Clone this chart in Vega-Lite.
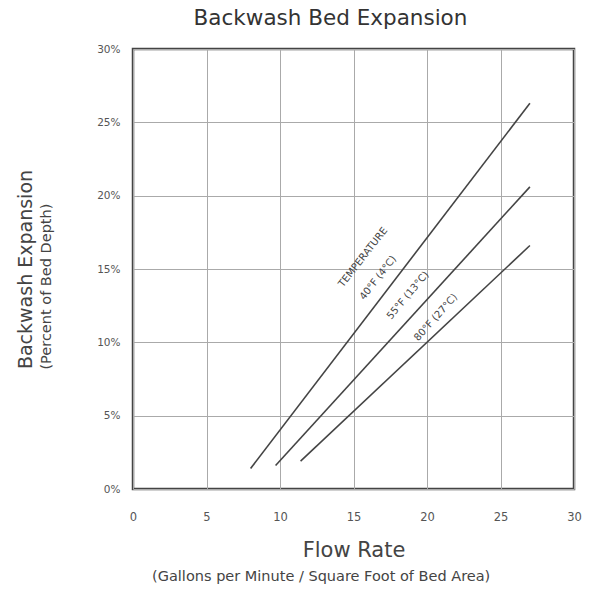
{
  "$schema": "https://vega.github.io/schema/vega-lite/v6.json",
  "autosize": "none",
  "width": 441,
  "height": 440,
  "padding": {"left": 133, "top": 49, "right": 19, "bottom": 103},
  "background": "white",
  "title": {
    "text": "Backwash Bed Expansion",
    "font": "DejaVu Sans",
    "fontSize": 21.5,
    "fontWeight": "normal",
    "color": "#333",
    "anchor": "middle",
    "dx": -23,
    "offset": 15
  },
  "config": {
    "view": {"stroke": "#444", "strokeWidth": 2.5},
    "axis": {
      "labelFont": "DejaVu Sans",
      "titleFont": "DejaVu Sans",
      "labelColor": "#555",
      "titleColor": "#444",
      "titleFontWeight": "normal",
      "gridColor": "#aaa",
      "gridWidth": 1,
      "gridOpacity": 1,
      "ticks": false,
      "tickSize": 0,
      "domain": false
    }
  },
  "datasets": {
    "curves": [
      {"flow": 8.0, "expansion": 1.4, "temp": "40°F"},
      {"flow": 27.0, "expansion": 26.3, "temp": "40°F"},
      {"flow": 9.7, "expansion": 1.6, "temp": "55°F"},
      {"flow": 27.0, "expansion": 20.6, "temp": "55°F"},
      {"flow": 11.4, "expansion": 1.9, "temp": "80°F"},
      {"flow": 27.0, "expansion": 16.6, "temp": "80°F"}
    ],
    "labels": [
      {"flow": 15.65, "expansion": 15.8, "label": "TEMPERATURE", "temp": "40°F"},
      {"flow": 16.67, "expansion": 14.4, "label": "40°F (4°C)", "temp": "40°F"},
      {"flow": 18.7, "expansion": 13.2, "label": "55°F (13°C)", "temp": "55°F"},
      {"flow": 20.6, "expansion": 11.7, "label": "80°F (27°C)", "temp": "80°F"}
    ]
  },
  "layer": [
    {
      "data": {"name": "curves"},
      "mark": {"type": "line", "color": "#444", "strokeWidth": 1.6},
      "encoding": {
        "x": {
          "field": "flow",
          "type": "quantitative",
          "scale": {"domain": [0, 30], "nice": false, "zero": false},
          "axis": {
            "values": [0, 5, 10, 15, 20, 25, 30],
            "title": "Flow Rate",
            "titleFontSize": 21,
            "titlePadding": 17,
            "labelFontSize": 11.5,
            "labelPadding": 22,
            "labelFlush": false
          }
        },
        "y": {
          "field": "expansion",
          "type": "quantitative",
          "scale": {"domain": [0, 30], "nice": false},
          "axis": {
            "values": [0, 5, 10, 15, 20, 25, 30],
            "labelExpr": "datum.value + '%'",
            "title": "Backwash Expansion",
            "titleFontSize": 19,
            "titlePadding": 61,
            "labelFontSize": 10.5,
            "labelPadding": 13,
            "labelFlush": false
          }
        },
        "detail": {"field": "temp", "type": "nominal"}
      }
    },
    {
      "data": {"name": "labels"},
      "mark": {"type": "text", "font": "DejaVu Sans", "fontSize": 10, "color": "#444"},
      "encoding": {
        "x": {"field": "flow", "type": "quantitative"},
        "y": {"field": "expansion", "type": "quantitative"},
        "text": {"field": "label"},
        "angle": {
          "field": "temp",
          "type": "nominal",
          "scale": {"domain": ["40°F", "55°F", "80°F"], "range": [308, 312, 317]},
          "legend": null
        }
      }
    },
    {
      "data": {"values": [{"note": "(Gallons per Minute / Square Foot of Bed Area)", "flow": 12.8, "expansion": -6.0}]},
      "mark": {"type": "text", "font": "DejaVu Sans", "fontSize": 14.5, "color": "#444", "clip": false},
      "encoding": {
        "x": {"field": "flow", "type": "quantitative"},
        "y": {"field": "expansion", "type": "quantitative"},
        "text": {"field": "note"}
      }
    },
    {
      "data": {"values": [{"note": "(Percent of Bed Depth)", "flow": -5.85, "expansion": 13.8}]},
      "mark": {"type": "text", "font": "DejaVu Sans", "fontSize": 14.5, "color": "#444", "angle": 270, "clip": false},
      "encoding": {
        "x": {"field": "flow", "type": "quantitative"},
        "y": {"field": "expansion", "type": "quantitative"},
        "text": {"field": "note"}
      }
    }
  ]
}
